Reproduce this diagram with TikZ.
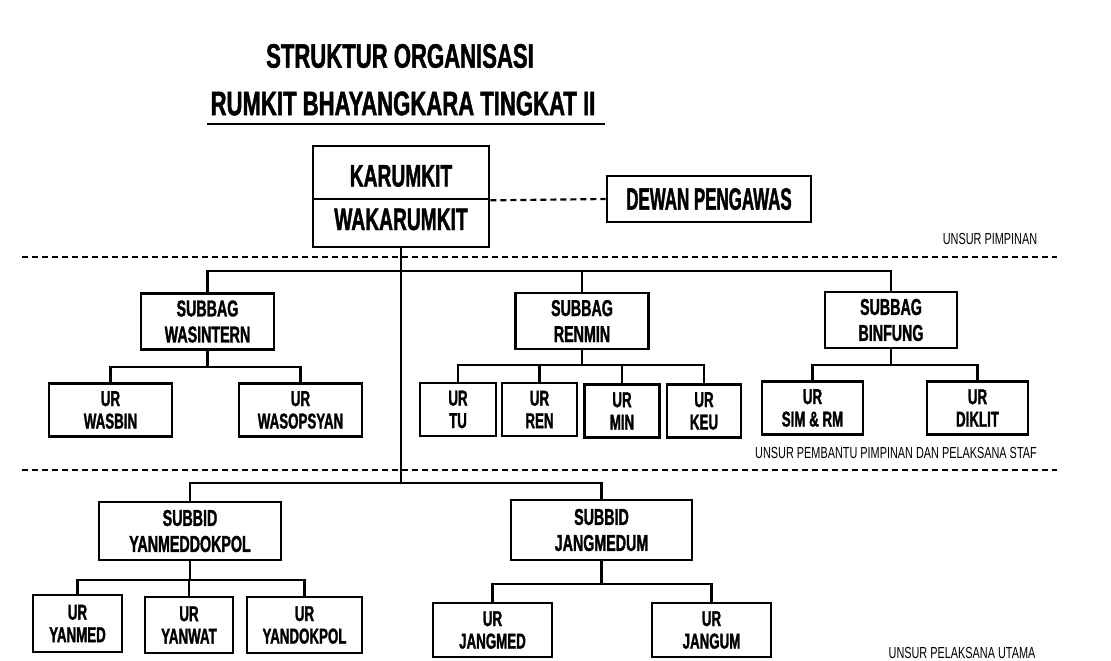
\documentclass[tikz,border=0pt]{standalone}
\usepackage{fontspec}
\newfontfamily\condb{Liberation Sans}[FakeStretch=0.62, BoldFeatures={FakeBold=1.3}]
\newfontfamily\condt{Liberation Sans}[FakeStretch=0.65, BoldFeatures={FakeBold=1.3}]
\newfontfamily\condr{Liberation Sans}[FakeStretch=0.68]
\begin{document}
\begin{tikzpicture}[x=1pt,y=-1pt,
  box/.style={draw, line width=2.7pt, inner sep=0pt, align=center,
    font=\condb\bfseries\fontsize{23}{26}\selectfont},
  ur/.style={box, font=\condb\bfseries\fontsize{21.5}{22.5}\selectfont},
  topbox/.style={box, font=\condb\bfseries\fontsize{31}{34}\selectfont, minimum width=176pt},
  lnk/.style={line width=2.5pt},
  sep/.style={line width=2.2pt, dash pattern=on 6pt off 4pt},
  lab/.style={font=\condr\fontsize{16}{18}\selectfont, inner sep=0pt},
  ttl/.style={font=\condt\bfseries\fontsize{34}{38}\selectfont, inner sep=0pt}
]
\useasboundingbox[fill=white] (0,0) rectangle (1111,661);

% title
\node[ttl] (title1) at (400,56) {STRUKTUR ORGANISASI};
\node[ttl] (title2) at (403,103.5) {RUMKIT BHAYANGKARA TINGKAT II};
\coordinate (ulA) at (207,124);
\coordinate (ulB) at (605,124);
\draw[line width=2.8pt] (ulA) -- (ulB);

% top
\node[topbox, minimum height=53pt, text height=28pt, text depth=0pt] (karumkit) at (401,172.5) {KARUMKIT};
\node[topbox, minimum height=48pt, text height=22pt, text depth=8pt] (wakarumkit) at (401,223) {WAKARUMKIT};
\node[box, font=\condb\bfseries\fontsize{31}{34}\selectfont, minimum width=204pt, minimum height=46pt] (dewan) at (709,199) {\scalebox{0.88}[1]{DEWAN PENGAWAS}};
\draw[sep] (karumkit.south east) -- (dewan.west);

% separators
\coordinate (s1a) at (22,257);
\coordinate (s1b) at (1057,257);
\coordinate (s2a) at (22,470);
\coordinate (s2b) at (1057,470);
\draw[sep] (s1a) -- (s1b);
\draw[sep] (s2a) -- (s2b);
\node[lab] (lab1) at (990,239) {UNSUR PIMPINAN};
\node[lab] (lab2) at (896,453) {UNSUR PEMBANTU PIMPINAN DAN PELAKSANA STAF};
\node[lab] (lab3) at (962,653) {UNSUR PELAKSANA UTAMA};

% level 1
\node[box, minimum width=133pt, minimum height=56pt] (wasintern) at (207.5,321.5) {SUBBAG\\WASINTERN};
\node[box, minimum width=133pt, minimum height=56pt] (renmin) at (582,321) {SUBBAG\\RENMIN};
\node[box, minimum width=132pt, minimum height=56pt] (binfung) at (891,320) {SUBBAG\\BINFUNG};

\node[ur, minimum width=123pt, minimum height=53pt] (wasbin) at (110.5,410) {UR\\WASBIN};
\node[ur, minimum width=123pt, minimum height=53pt] (wasopsyan) at (300.5,410) {UR\\WASOPSYAN};
\node[ur, minimum width=76pt, minimum height=53pt] (tu) at (458,409.5) {UR\\TU};
\node[ur, minimum width=75pt, minimum height=53pt] (ren) at (539.5,409.5) {UR\\REN};
\node[ur, minimum width=75pt, minimum height=53pt] (min) at (622,411) {UR\\MIN};
\node[ur, minimum width=74pt, minimum height=53pt] (keu) at (704,411) {UR\\KEU};
\node[ur, minimum width=101pt, minimum height=53pt] (simrm) at (812.5,408) {UR\\SIM \& RM};
\node[ur, minimum width=101pt, minimum height=53pt] (diklit) at (977.5,408) {UR\\DIKLIT};

% level 2
\node[box, minimum width=182pt, minimum height=58pt] (yanmeddokpol) at (190,531) {SUBBID\\YANMEDDOKPOL};
\node[box, minimum width=181pt, minimum height=60pt] (jangmedum) at (601.5,530) {SUBBID\\JANGMEDUM};

\node[ur, minimum width=89pt, minimum height=57pt] (yanmed) at (77.5,623.5) {UR\\YANMED};
\node[ur, minimum width=88pt, minimum height=56pt] (yanwat) at (189,625) {UR\\YANWAT};
\node[ur, minimum width=115pt, minimum height=56pt] (yandokpol) at (304.5,625) {UR\\YANDOKPOL};
\node[ur, minimum width=119pt, minimum height=54pt] (jangmed) at (492.5,630) {UR\\JANGMED};
\node[ur, minimum width=119pt, minimum height=54pt] (jangum) at (711.5,630) {UR\\JANGUM};

% connector levels
\coordinate (barTop) at (0,271);
\coordinate (barBot) at (0,483);
\coordinate (barWas) at (0,367);
\coordinate (barRen) at (0,365);
\coordinate (barBin) at (0,365);
\coordinate (barYan) at (0,580);
\coordinate (barJan) at (0,584);

\draw[lnk] (wakarumkit.south) -- (wakarumkit.south |- barBot);
\draw[lnk] (wasintern.north) |- (binfung.north |- barTop) -- (binfung.north);
\draw[lnk] (renmin.north) -- (renmin.north |- barTop);
\draw[lnk] (yanmeddokpol.north) |- (jangmedum.north |- barBot) -- (jangmedum.north);

\draw[lnk] (wasintern.south) -- (wasintern.south |- barWas);
\draw[lnk] (wasbin.north) |- (wasopsyan.north |- barWas) -- (wasopsyan.north);

\draw[lnk] (renmin.south) -- (renmin.south |- barRen);
\draw[lnk] (tu.north) |- (keu.north |- barRen) -- (keu.north);
\draw[lnk] (ren.north) -- (ren.north |- barRen);
\draw[lnk] (min.north) -- (min.north |- barRen);

\draw[lnk] (binfung.south) -- (binfung.south |- barBin);
\draw[lnk] (simrm.north) |- (diklit.north |- barBin) -- (diklit.north);

\draw[lnk] (yanmeddokpol.south) -- (yanmeddokpol.south |- barYan);
\draw[lnk] (yanmed.north) |- (yandokpol.north |- barYan) -- (yandokpol.north);
\draw[lnk] (yanwat.north) -- (yanwat.north |- barYan);

\draw[lnk] (jangmedum.south) -- (jangmedum.south |- barJan);
\draw[lnk] (jangmed.north) |- (jangum.north |- barJan) -- (jangum.north);
\end{tikzpicture}
\end{document}
